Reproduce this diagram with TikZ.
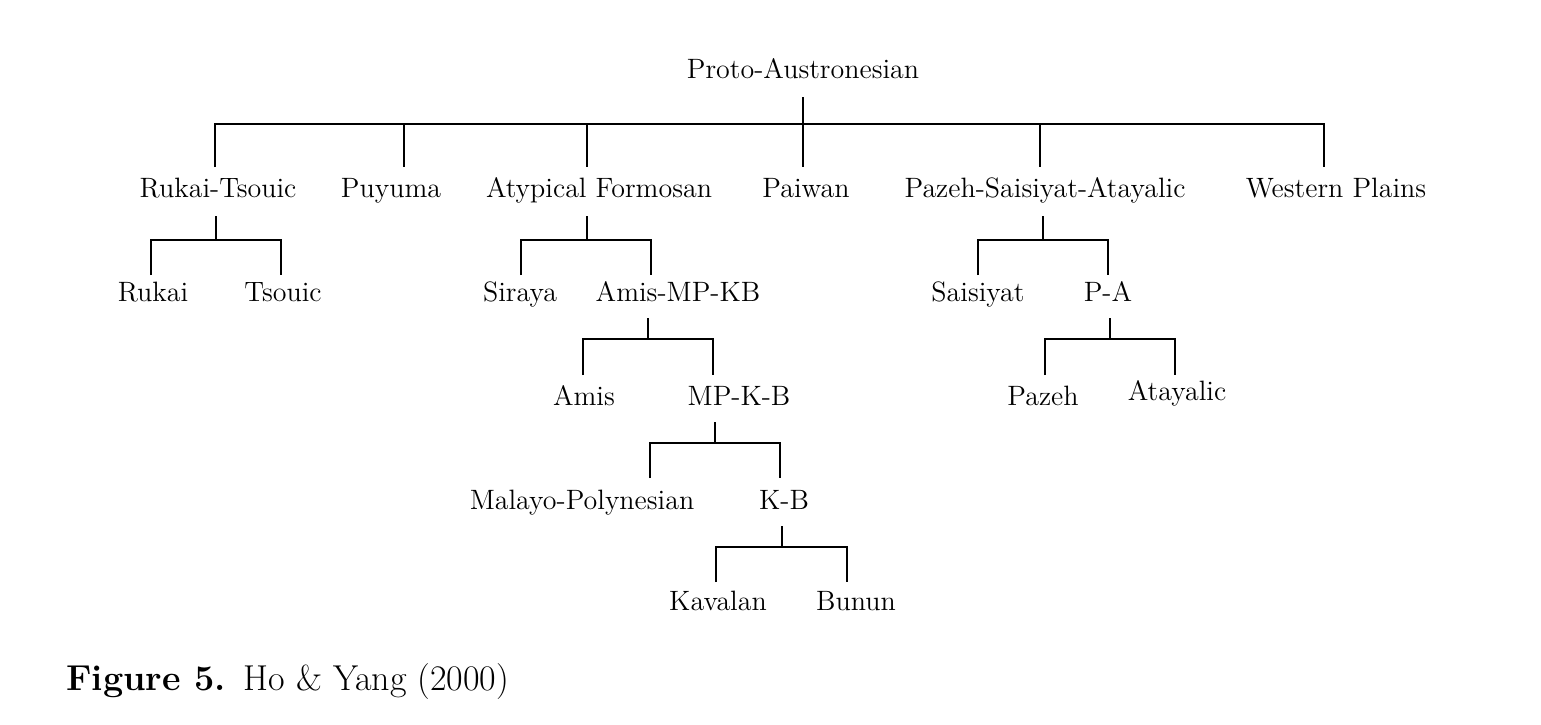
\documentclass[tikz,border=0pt]{standalone}
\begin{document}
\begin{tikzpicture}[x=0.5pt,y=-0.5pt,
  lab/.style={inner sep=0pt,font=\fontsize{14}{16}\selectfont,text height=9.5pt,text depth=3pt},
  br/.style={line width=0.6pt}]
\useasboundingbox (0,0) rectangle (1541,724);
% nodes
\node[lab] (pan) at (803,72) {Proto-Austronesian};
\node[lab] (rt) at (218,191) {Rukai-Tsouic};
\node[lab] (pu) at (391,191) {Puyuma};
\node[lab] (af) at (599,191) {Atypical Formosan};
\node[lab] (pw) at (806,191) {Paiwan};
\node[lab] (psa) at (1045,191) {Pazeh-Saisiyat-Atayalic};
\node[lab] (wp) at (1336,191) {Western Plains};
\node[lab] (ru) at (153,295) {Rukai};
\node[lab] (ts) at (283,295) {Tsouic};
\node[lab] (si) at (520,295) {Siraya};
\node[lab] (amk) at (678,295) {Amis-MP-KB};
\node[lab] (am) at (584,399) {Amis};
\node[lab] (mkb) at (739,399) {MP-K-B};
\node[lab] (mp) at (582,503) {Malayo-Polynesian};
\node[lab] (kb) at (784,503) {K-B};
\node[lab] (ka) at (718,604) {Kavalan};
\node[lab] (bu) at (856,604) {Bunun};
\node[lab] (sa) at (978,295) {Saisiyat};
\node[lab] (pa) at (1108,295) {P-A};
\node[lab] (pz) at (1043,399) {Pazeh};
\node[lab] (at) at (1177,394) {Atayalic};
\node[anchor=west,inner sep=0pt,font=\fontsize{18}{20}\selectfont] (cap) at (66,682) {\textbf{Figure 5.}\enspace Ho \& Yang (2000)};
% top level
\coordinate (t0) at (803,97);
\draw[br] (t0) -- (803,167);
\draw[br] (215,167) -- (215,124) -- (1324,124) -- (1324,167);
\foreach \x in {404,587,1040} \draw[br] (\x,124) -- (\x,167);
% binary brackets: #1 stem x, #2 stem top y, #3 bar y, #4 left x, #5 right x, #6 bottom y
\newcommand\brk[6]{\draw[br] (#1,#2) -- (#1,#3); \draw[br] (#4,#6) -- (#4,#3) -- (#5,#3) -- (#5,#6);}
\brk{216}{216}{240}{151}{281}{275}
\brk{587}{216}{240}{521}{651}{275}
\brk{648}{318}{339}{583}{713}{375}
\brk{715}{422}{443}{650}{780}{478}
\brk{782}{526}{547}{716}{847}{582}
\brk{1043}{216}{240}{978}{1108}{275}
\brk{1110}{318}{339}{1045}{1175}{375}
\end{tikzpicture}
\end{document}
